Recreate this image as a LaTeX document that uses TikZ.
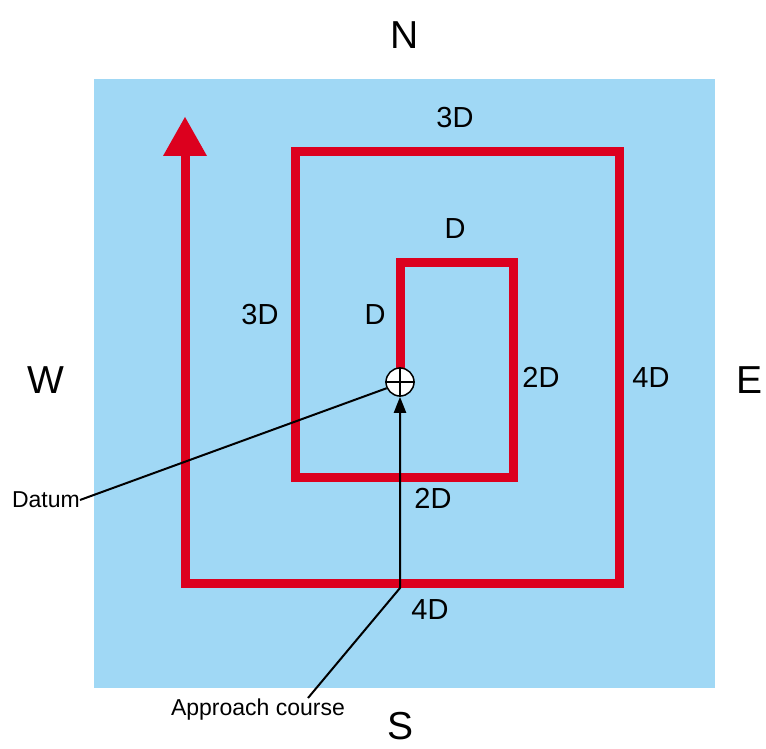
\documentclass[tikz,border=0pt]{standalone}
\usepackage{fontspec}
\setmainfont{Liberation Sans}
\usetikzlibrary{arrows.meta}
\definecolor{sea}{RGB}{160,216,245}
\definecolor{track}{RGB}{220,0,30}
\begin{document}
\begin{tikzpicture}[x=1pt,y=-1pt,
  lbl/.style={font=\fontsize{29}{31}\selectfont, inner sep=0pt},
  cardinal/.style={font=\fontsize{39}{42}\selectfont, inner sep=0pt},
  small/.style={font=\fontsize{23}{25}\selectfont, inner sep=0pt},
  red/.style={draw=track, line width=9pt},
  leader/.style={draw=black, line width=2pt}]
\useasboundingbox (0,0) rectangle (766,749);
\fill[sea] (94,79) rectangle (715,688);
% search pattern
\coordinate (d0) at (400,382);
\coordinate (p1) at (400,262);
\coordinate (p2) at (513,262);
\coordinate (p3) at (513,477);
\coordinate (p4) at (295,477);
\coordinate (p5) at (295,152);
\coordinate (p6) at (619,152);
\coordinate (p7) at (619,583);
\coordinate (p8) at (185,583);
\coordinate (p9) at (185,150);
\draw[red, line join=miter] (d0) -- (p1) -- (p2) -- (p3) -- (p4) -- (p5) -- (p6) -- (p7) -- (p8) -- (p9);
\coordinate (tip) at (185,117);
\fill[track] (tip) -- (207,156) -- (163,156) -- cycle;
% datum symbol
\node[circle, draw=black, fill=white, line width=1.5pt, minimum size=28pt, inner sep=0pt] (datum) at (d0) {};
\draw[line width=1.5pt] (datum.north) -- (datum.south) (datum.west) -- (datum.east);
% labels
\node[cardinal] (N) at (405,35) {N};
\node[cardinal] (S) at (401,726) {S};
\node[cardinal] (W) at (46,380) {W};
\node[cardinal] (E) at (749,380) {E};
\node[lbl] (l1) at (455,118) {3D};
\node[lbl] (l2) at (455,229) {D};
\node[lbl] (l3) at (260,315) {3D};
\node[lbl] (l4) at (375,315) {D};
\node[lbl] (l5) at (541,377) {2D};
\node[lbl] (l6) at (651,378) {4D};
\node[lbl] (l7) at (433,498) {2D};
\node[lbl] (l8) at (430,610) {4D};
\node[small, anchor=east] (dt) at (80,500) {Datum};
\node[small] (ac) at (258,710) {Approach course};
% leaders
\draw[leader] (dt.east) -- (datum.205);
\coordinate (bend) at (400,588);
\draw[leader, -{Triangle[length=16pt,width=12pt]}] (308,698) -- (bend) -- (datum.south);
\end{tikzpicture}
\end{document}
